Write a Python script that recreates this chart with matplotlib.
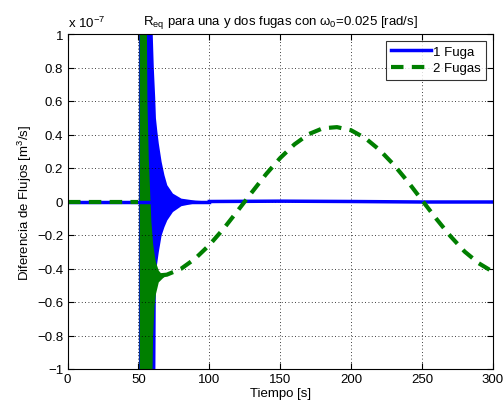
import matplotlib
matplotlib.use("Agg")
import matplotlib.pyplot as plt

plt.rcParams['font.family'] = ['Liberation Sans', 'DejaVu Sans']
plt.rcParams['mathtext.fontset'] = 'custom'
plt.rcParams['mathtext.rm'] = 'Liberation Sans'
plt.rcParams['mathtext.it'] = 'Liberation Sans:italic'

# data (values in units of 1e-7 m^3/s)
t_pre = [0, 50]
v_pre = [0, 0]

# blue (1 fuga): envelope of the fast oscillation after the leak
blue_t = [50, 53, 59, 60.5, 61.5, 62, 63, 64, 66, 68, 70, 74, 80, 90, 100]
blue_up = [1.2, 1.2, 1.2, 0.8, 0.62, 0.5, 0.42, 0.35, 0.24, 0.16, 0.1, 0.05, 0.02, 0.008, 0.003]
blue_lo = [-1.2, -1.2, -1.2, -1.2, -1.2, -0.42, -0.36, -0.3, -0.2, -0.15, -0.11, -0.06, -0.025, -0.008, -0.003]
blue_tail_t = [100, 150, 200, 250, 300]
blue_tail_v = [0, 0.002, 0, -0.003, -0.003]

# green (2 fugas): envelope of the fast oscillation
green_t = [50.5, 55.5, 56, 57, 58.8, 59.2, 60, 61, 62, 64, 67, 70]
green_up = [1.2, 1.2, 0.6, 0.25, -0.12, -0.16, -0.25, -0.31, -0.36, -0.41, -0.44, -0.437]
green_lo = [-1.2, -1.2, -1.2, -1.2, -1.2, -1.2, -0.8, -0.62, -0.55, -0.48, -0.455, -0.437]

# green slow component
slow_t = [66, 70, 80, 90, 100, 110, 120, 130, 140, 150, 160, 170, 180, 190,
          200, 210, 220, 230, 240, 250, 260, 270, 280, 290, 300]
slow_v = [-0.44, -0.437, -0.402, -0.341, -0.260, -0.163, -0.055, 0.055, 0.163, 0.260,
          0.341, 0.402, 0.437, 0.444, 0.425, 0.378, 0.308, 0.220, 0.118, 0.007,
          -0.103, -0.207, -0.299, -0.369, -0.420]

xticks = [0, 50, 100, 150, 200, 250, 300]
yticks = [-1, -0.8, -0.6, -0.4, -0.2, 0, 0.2, 0.4, 0.6, 0.8, 1]
ylabels = ['\u22121', '\u22120.8', '\u22120.6', '\u22120.4', '\u22120.2', '0',
           '0.2', '0.4', '0.6', '0.8', '1']

blue = '#0000ff'
green = '#007f00'
fs = 9.5

fig = plt.figure(figsize=(5.03, 4.10), dpi=100)
ax = fig.add_axes([67.5 / 503, 40 / 410, 425.5 / 503, 335 / 410])

ax.plot(t_pre + blue_tail_t[:1], v_pre + [0], color=blue, lw=2.5)
ax.fill_between(blue_t, blue_lo, blue_up, color=blue, lw=0)
ax.plot(blue_tail_t, blue_tail_v, color=blue, lw=2.5, label='1 Fuga')

ax.plot(t_pre, v_pre, color=green, lw=3, dashes=(3, 2))
ax.fill_between(green_t, green_lo, green_up, color=green, lw=0)
ax.plot(slow_t, slow_v, color=green, lw=3, dashes=(3, 2), label='2 Fugas')

ax.set_xlim(0, 300)
ax.set_ylim(-1, 1)
ax.set_xticks(xticks)
ax.set_yticks(yticks)
ax.set_yticklabels(ylabels)
ax.tick_params(direction='in', top=True, right=True, labelsize=fs, length=4, pad=3)
ax.grid(True, color='black', linestyle=(0, (1, 3)), linewidth=0.6)
for s in ax.spines.values():
    s.set_linewidth(0.8)

ax.set_xlabel('Tiempo [s]', fontsize=fs, labelpad=1)
ax.set_ylabel('Diferencia de Flujos [m$^3$/s]', fontsize=fs, labelpad=2)
ax.set_title('R$_\\mathregular{eq}$ para una y dos fugas con \u03c9$_\\mathregular{0}$=0.025 [rad/s]',
             fontsize=fs, pad=7)
ax.text(0.0, 1.012, 'x 10$^{-7}$', transform=ax.transAxes, fontsize=fs, ha='left', va='bottom')

leg = ax.legend(loc='upper right', fontsize=fs, frameon=True, fancybox=False,
                edgecolor='black', handlelength=3.0, borderpad=0.4,
                labelspacing=0.3, handletextpad=0.2, borderaxespad=0.5)
leg.get_frame().set_linewidth(0.8)

fig.savefig('out.png', dpi=100)
